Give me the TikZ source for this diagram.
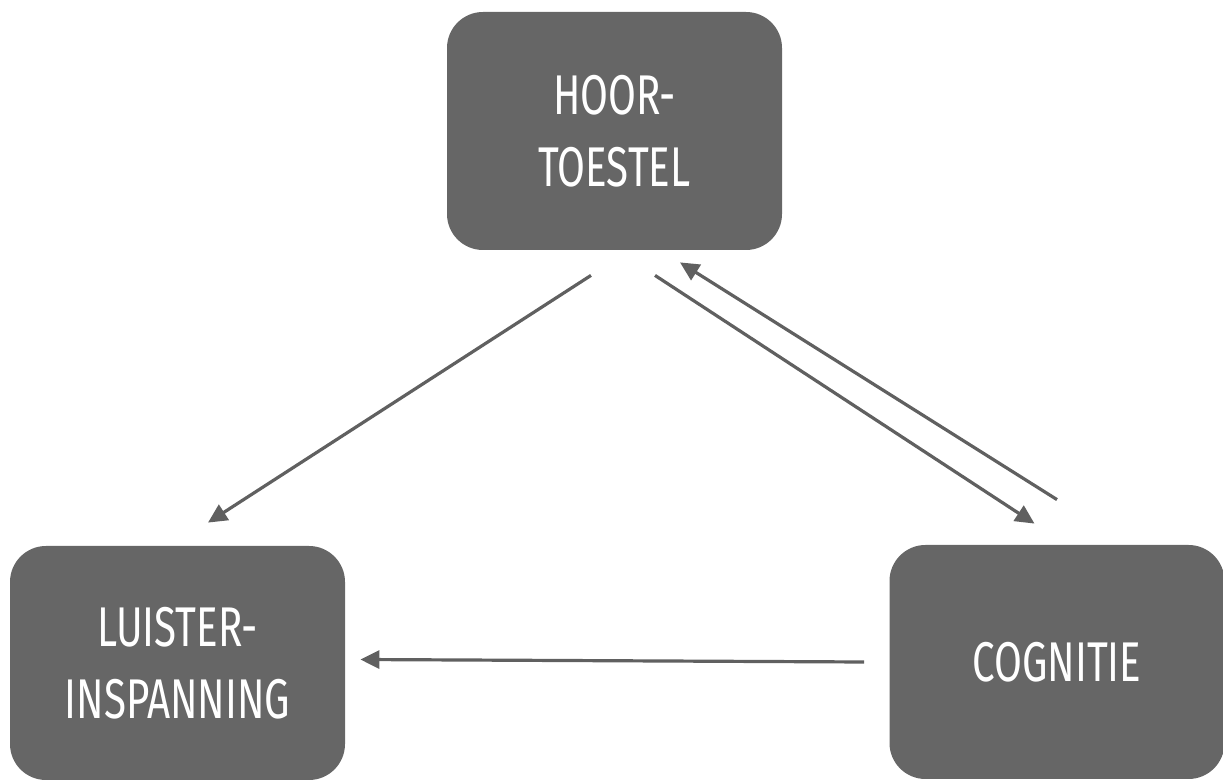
\documentclass[tikz,border=0pt]{standalone}
\usepackage{fontspec}
\setmainfont[FakeStretch=0.72]{Fira Sans}
\usetikzlibrary{arrows.meta}
\definecolor{boxgrey}{RGB}{102,102,102}
\definecolor{arrowgrey}{RGB}{96,96,96}

\begin{document}
\begin{tikzpicture}[x=0.5pt,y=-0.5pt,
          blok/.style={rounded corners=18pt,fill=boxgrey,text=white,
            font=\fontsize{28}{36}\selectfont,
            minimum width=167.5pt,minimum height=117pt,
            align=center,inner sep=0pt},
          pijl/.style={-{Triangle[length=9.5pt,width=9pt]},arrowgrey,
            line width=1.6pt}]

        \useasboundingbox (0,0) rectangle (1223,780);

        \node[blok,minimum height=119pt] (hoor) at (614.5,131)
          {HOOR-\\TOESTEL};
        \node[blok] (luister) at (177.5,663)
          {LUISTER-\\INSPANNING};
        \node[blok] (cognitie) at (1057,662)
          {COGNITIE};

        \draw[pijl] ([xshift=-11.75pt,yshift=-12.5pt]hoor.south)
          -- ([xshift=15.25pt,yshift=11.5pt]luister.north);
        \draw[pijl] ([xshift=20.25pt,yshift=-12.5pt]hoor.south)
          -- ([xshift=-11.25pt,yshift=10.5pt]cognitie.north);
        \draw[pijl] ([yshift=22.5pt]cognitie.north)
          -- ([xshift=32.75pt,yshift=-6pt]hoor.south);
        \draw[pijl] ([xshift=-12.5pt]cognitie.west)
          -- ([xshift=7.5pt,yshift=1.75pt]luister.east);

      \end{tikzpicture}
\end{document}
